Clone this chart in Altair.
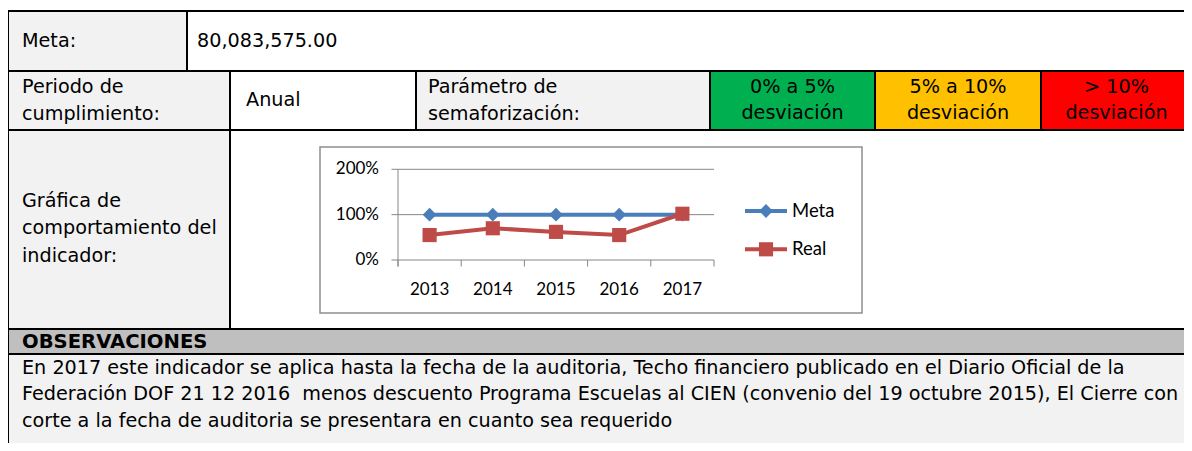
import altair as alt
import pandas as pd

# ---------------- data ----------------
years = ["2013", "2014", "2015", "2016", "2017"]
meta_values = [1.00, 1.00, 1.00, 1.00, 1.00]
real_values = [0.55, 0.70, 0.62, 0.55, 1.02]
series_names = ["Meta", "Real"]
series_colors = ["#4A7EBB", "#BE4B48"]
series_shapes = ["diamond", "square"]
y_ticks = [0.0, 1.0, 2.0]

meta_label = "Meta:"
meta_amount = "80,083,575.00"
periodo_label = ["Periodo de", "cumplimiento:"]
periodo_value = "Anual"
param_label = ["Parámetro de", "semaforización:"]
semaforo_labels = [["0% a 5%", "desviación"], ["5% a 10%", "desviación"], ["> 10%", "desviación"]]
semaforo_colors = ["#00B050", "#FFC000", "#FF0000"]
grafica_label = ["Gráfica de", "comportamiento del", "indicador:"]
obs_title = "OBSERVACIONES"
obs_lines = [
    "En 2017 este indicador se aplica hasta la fecha de la auditoria, Techo financiero publicado en el Diario Oficial de la",
    "Federación DOF 21 12 2016\u00a0 menos descuento Programa Escuelas al CIEN (convenio del 19 octubre 2015), El Cierre con",
    "corte a la fecha de auditoria se presentara en cuanto sea requerido",
]

# ---------------- layout (page pixels, shifted by the 8px page margin) ----------------
M = 8
GRAY = "#F2F2F2"
HEAD = "#BFBFBF"
TFONT = "DejaVu Sans"
TSIZE = 19.2
BSIZE = 19.6
CFONT = "Lato"
CSIZE = 17


def p(v):
    return v - M


cells = [
    # row 1
    (8, 187, 11, 71, GRAY),
    (187, 1200, 11, 71, "white"),
    # row 2
    (8, 230, 71, 130, GRAY),
    (230, 416, 71, 130, "white"),
    (416, 710, 71, 130, GRAY),
    (710, 875, 71, 130, semaforo_colors[0]),
    (875, 1041, 71, 130, semaforo_colors[1]),
    (1041, 1200, 71, 130, semaforo_colors[2]),
    # row 3
    (8, 230, 130, 329, GRAY),
    (230, 1200, 130, 329, "white"),
    # observations
    (8, 1200, 329, 354, HEAD),
    (8, 1200, 354, 480, GRAY),
]
cells_df = pd.DataFrame(
    [dict(x0=p(a), x1=p(b), y0=p(c), y1=p(d), fill=f) for a, b, c, d, f in cells]
)

left_texts = [
    (meta_label, 22, 41),
    (meta_amount, 197, 41),
    (periodo_label[0], 22, 87),
    (periodo_label[1], 22, 114),
    (periodo_value, 246, 100),
    (param_label[0], 428, 87),
    (param_label[1], 428, 114),
    (grafica_label[0], 22, 201),
    (grafica_label[1], 22, 228),
    (grafica_label[2], 22, 256),
    (obs_lines[0], 22, 368),
    (obs_lines[1], 22, 394),
    (obs_lines[2], 22, 421),
]
left_df = pd.DataFrame([dict(t=t, x=p(x), y=p(y)) for t, x, y in left_texts])

sem_centers = [792.5, 958, 1116.5]
center_rows = []
for cxv, lines in zip(sem_centers, semaforo_labels):
    center_rows.append(dict(t=lines[0], x=p(cxv), y=p(87)))
    center_rows.append(dict(t=lines[1], x=p(cxv), y=p(113)))
center_df = pd.DataFrame(center_rows)

bold_df = pd.DataFrame([dict(t=obs_title, x=p(22), y=p(342))])

# table layers
cell_layer = alt.Chart(cells_df).mark_rect(stroke="black", strokeWidth=2).encode(
    x=alt.X("x0:Q", scale=None, axis=None),
    x2="x1:Q",
    y=alt.Y("y0:Q", scale=None, axis=None),
    y2="y1:Q",
    fill=alt.Fill("fill:N", scale=None, legend=None),
)


def text_layer(df, align, bold=False):
    return alt.Chart(df).mark_text(
        align=align, baseline="middle", font=TFONT,
        fontSize=BSIZE if bold else TSIZE,
        fontWeight="bold" if bold else "normal", color="black",
    ).encode(
        x=alt.X("x:Q", scale=None, axis=None),
        y=alt.Y("y:Q", scale=None, axis=None),
        text="t:N",
    )


# ---------------- embedded line chart ----------------
box_df = pd.DataFrame([dict(x0=p(320), x1=p(862), y0=p(147), y1=p(313))])
box_layer = alt.Chart(box_df).mark_rect(fill="white", stroke="#8E8E8E", strokeWidth=1.5).encode(
    x=alt.X("x0:Q", scale=None, axis=None),
    x2="x1:Q",
    y=alt.Y("y0:Q", scale=None, axis=None),
    y2="y1:Q",
)

X_RANGE = [p(398), p(714)]
Y_RANGE = [p(260), p(169.3)]
yscale = alt.Scale(domain=[0, 2], range=Y_RANGE)
xscale = alt.Scale(domain=years, range=X_RANGE, type="point", padding=0.5)
AXC = "#868686"

ytick_df = pd.DataFrame({"v": y_ticks})
grid_layer = alt.Chart(ytick_df).mark_rule(color=AXC, strokeWidth=1).encode(
    y=alt.Y("v:Q", scale=yscale, axis=None),
    x=alt.value(p(391.5)),
    x2=alt.value(X_RANGE[1]),
)
ylabel_layer = alt.Chart(ytick_df).mark_text(
    align="right", baseline="middle", font=CFONT, fontSize=CSIZE, color="black"
).encode(
    y=alt.Y("v:Q", scale=yscale, axis=None),
    x=alt.value(p(379)),
    text=alt.Text("v:Q", format=".0%"),
)
yaxis_df = pd.DataFrame({"v": [2.0]})
yaxis_layer = alt.Chart(yaxis_df).mark_rule(color=AXC, strokeWidth=1).encode(
    y=alt.Y("v:Q", scale=yscale, axis=None),
    y2=alt.value(p(266.5)),
    x=alt.value(X_RANGE[0]),
)

bounds_df = pd.DataFrame({"b": list(range(len(years) + 1))})
xtick_layer = alt.Chart(bounds_df).mark_rule(color=AXC, strokeWidth=1).encode(
    x=alt.X("b:Q", scale=alt.Scale(domain=[0, len(years)], range=X_RANGE), axis=None),
    y=alt.value(p(260)),
    y2=alt.value(p(266.5)),
)
xlabel_df = pd.DataFrame({"year": years})
xlabel_layer = alt.Chart(xlabel_df).mark_text(
    align="center", baseline="middle", font=CFONT, fontSize=CSIZE, color="black"
).encode(
    x=alt.X("year:N", scale=xscale, axis=None),
    y=alt.value(p(290)),
    text="year:N",
)

long_df = pd.DataFrame(
    [dict(year=y, series="Meta", value=v) for y, v in zip(years, meta_values)]
    + [dict(year=y, series="Real", value=v) for y, v in zip(years, real_values)]
)
cscale = alt.Scale(domain=series_names, range=series_colors)
sscale = alt.Scale(domain=series_names, range=series_shapes)
zscale = alt.Scale(domain=series_names, range=[190, 200])

series_layers = []
for name in series_names:
    sub = long_df[long_df["series"] == name]
    line = alt.Chart(sub).mark_line(strokeWidth=4).encode(
        x=alt.X("year:N", scale=xscale, axis=None),
        y=alt.Y("value:Q", scale=yscale, axis=None),
        color=alt.Color("series:N", scale=cscale, legend=None),
    )
    pts = alt.Chart(sub).mark_point(filled=True, opacity=1).encode(
        x=alt.X("year:N", scale=xscale, axis=None),
        y=alt.Y("value:Q", scale=yscale, axis=None),
        color=alt.Color("series:N", scale=cscale, legend=None),
        shape=alt.Shape("series:N", scale=sscale, legend=None),
        size=alt.Size("series:N", scale=zscale, legend=None),
    )
    series_layers += [line, pts]

# manual legend
leg_df = pd.DataFrame({"series": series_names})
leg_y = alt.Y("series:N", scale=alt.Scale(domain=series_names, range=[p(211), p(249.3)], type="point", padding=0), axis=None)
leg_line = alt.Chart(leg_df).mark_rule(strokeWidth=4).encode(
    y=leg_y,
    x=alt.value(p(745)),
    x2=alt.value(p(787)),
    color=alt.Color("series:N", scale=cscale, legend=None),
)
leg_pts = alt.Chart(leg_df).mark_point(filled=True, opacity=1).encode(
    y=leg_y,
    x=alt.value(p(766)),
    color=alt.Color("series:N", scale=cscale, legend=None),
    shape=alt.Shape("series:N", scale=sscale, legend=None),
    size=alt.Size("series:N", scale=zscale, legend=None),
)
leg_text = alt.Chart(leg_df).mark_text(
    align="left", baseline="middle", font=CFONT, fontSize=18.5, color="black"
).encode(
    y=leg_y,
    x=alt.value(p(792)),
    text="series:N",
)

chart = alt.layer(
    cell_layer,
    text_layer(left_df, "left"),
    text_layer(center_df, "center"),
    text_layer(bold_df, "left", bold=True),
    box_layer,
    grid_layer,
    yaxis_layer,
    xtick_layer,
    ylabel_layer,
    xlabel_layer,
    *series_layers,
    leg_line,
    leg_pts,
    leg_text,
).resolve_scale(
    x="independent", y="independent", color="independent",
    shape="independent", size="independent",
).properties(
    width=1176, height=435, padding=0,
    autosize=alt.AutoSizeParams(type="none"),
    background="white",
).configure_view(stroke=None)

chart.save("out.html", embed_options={"renderer": "svg", "actions": False})
